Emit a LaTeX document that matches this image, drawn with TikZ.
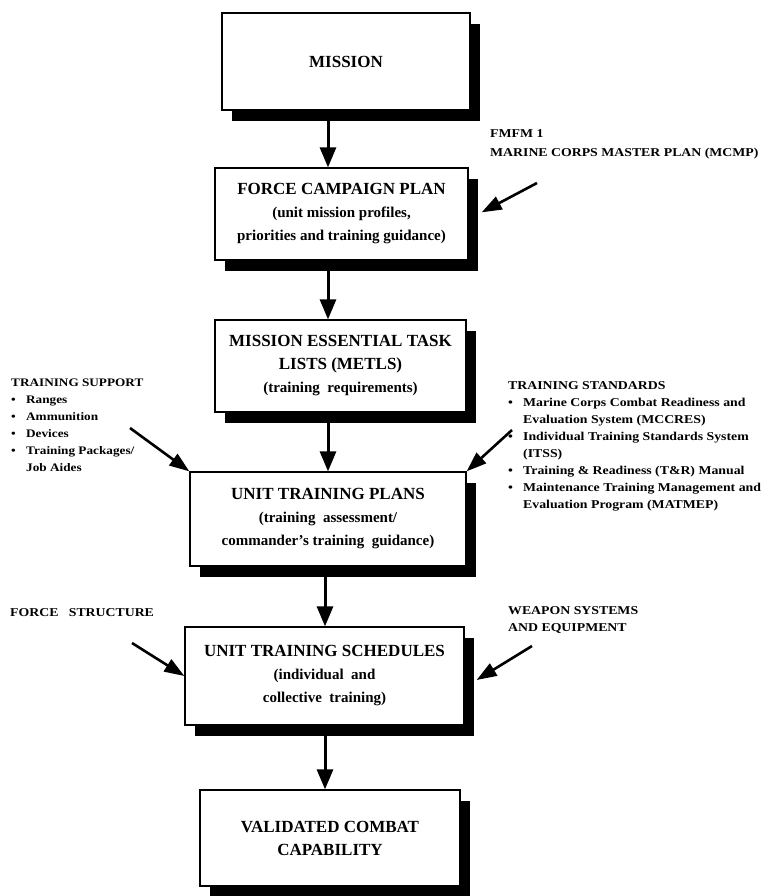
\documentclass[tikz,border=0pt]{standalone}
\usepackage{fontspec}
\setmainfont{Liberation Serif}
\newfontfamily\lblfont{Liberation Serif}[FakeStretch=1.15]
\usetikzlibrary{arrows.meta,shadows,calc}
\begin{document}
\begin{tikzpicture}[x=1pt,y=-1pt,
  flowbox/.style={draw=black, line width=1.3pt, fill=white, inner sep=0pt,
    align=center, font=\bfseries\fontsize{15}{23}\selectfont,
    general shadow={fill=black, shadow xshift=10pt, shadow yshift=-11pt}},
  flowarrow/.style={line width=3pt, -{Triangle[length=20pt,width=16pt]}},
  sidearrow/.style={line width=2.6pt, -{Triangle[length=20pt,width=14pt]}},
  lbl/.style={inner sep=0pt, align=left, font=\lblfont\bfseries\fontsize{12}{17}\selectfont},
  lblsmall/.style={lbl, font=\lblfont\bfseries\fontsize{11.5}{17}\selectfont}]
\newcommand{\ttl}[1]{{\fontsize{17}{23}\selectfont #1}}
\newcommand{\bul}{\makebox[15pt][l]{\textbullet}}
\newcommand{\ind}{\hspace*{15pt}}

\useasboundingbox (0,0) rectangle (778,896);
\fill[white] (0,0) rectangle (778,896);

% main chain of boxes
\node[flowbox, minimum width=248pt, minimum height=97pt] (mission) at (346,61.5)
  {\ttl{MISSION}};
\node[flowbox, minimum width=253pt, minimum height=92pt] (fcp) at (341.5,214)
  {\ttl{FORCE CAMPAIGN PLAN}\\(unit mission profiles,\\priorities and training guidance)};
\node[flowbox, minimum width=251pt, minimum height=92pt] (metl) at (340.5,366)
  {\ttl{MISSION ESSENTIAL TASK}\\\ttl{LISTS (METLS)}\\(training\ \ requirements)};
\node[flowbox, minimum width=276pt, minimum height=94pt] (utp) at (328,519)
  {\ttl{UNIT TRAINING PLANS}\\(training\ \ assessment/\\commander's\ training\ \ guidance)};
\node[flowbox, minimum width=279pt, minimum height=98pt] (uts) at (324.5,676)
  {\ttl{UNIT TRAINING SCHEDULES}\\(individual\ \ and\\collective\ \ training)};
\node[flowbox, minimum width=260pt, minimum height=96pt] (vcc) at (330,838)
  {\ttl{VALIDATED COMBAT}\\\ttl{CAPABILITY}};

% vertical flow
\coordinate (colA) at (328,0);
\coordinate (colB) at (325,0);
\draw[flowarrow] (mission.south -| colA) -- (fcp.north -| colA);
\draw[flowarrow] (fcp.south -| colA) -- (metl.north -| colA);
\draw[flowarrow] (metl.south -| colA) -- (utp.north -| colA);
\draw[flowarrow] (utp.south -| colB) -- (uts.north -| colB);
\draw[flowarrow] (uts.south -| colB) -- (vcc.north -| colB);

% inputs to the force campaign plan
\node[lbl, anchor=base west] (fmfm) at (490,138) {FMFM 1};
\node[lbl, anchor=base west] (mcmp) at (490,157) {MARINE CORPS MASTER PLAN (MCMP)};
\coordinate (mcmpTail) at (537,183);
\draw[sidearrow] (mcmpTail) -- ($(fcp.north east)+(13,45)$);

% inputs to the unit training plans
\node[lblsmall, anchor=north west] (tsup) at (11,379)
  {TRAINING SUPPORT\\
   \bul Ranges\\
   \bul Ammunition\\
   \bul Devices\\
   \bul Training Packages/\\
   \ind Job Aides};
\node[lbl, anchor=north west] (tstd) at (508,381)
  {TRAINING STANDARDS\\
   \bul Marine Corps Combat Readiness and\\
   \ind Evaluation System (MCCRES)\\
   \bul Individual Training Standards System\\
   \ind (ITSS)\\
   \bul Training \& Readiness (T\&R) Manual\\
   \bul Maintenance Training Management and\\
   \ind Evaluation Program (MATMEP)};
\coordinate (tsupTail) at (130,428);
\coordinate (tstdTail) at (512,430);
\draw[sidearrow] (tsupTail) -- (utp.north west);
\draw[sidearrow] (tstdTail) -- (utp.north east);

% inputs to the unit training schedules
\node[lbl, anchor=base west] (fstr) at (10,616) {FORCE\ \ \ STRUCTURE};
\node[lbl, anchor=north west] (wsys) at (508,606) {WEAPON SYSTEMS\\AND EQUIPMENT};
\coordinate (fstrTail) at (132,643);
\coordinate (wsysTail) at (532,646);
\draw[sidearrow] (fstrTail) -- (uts.west);
\draw[sidearrow] (wsysTail) -- ($(uts.east)+(12,4)$);
\end{tikzpicture}
\end{document}
